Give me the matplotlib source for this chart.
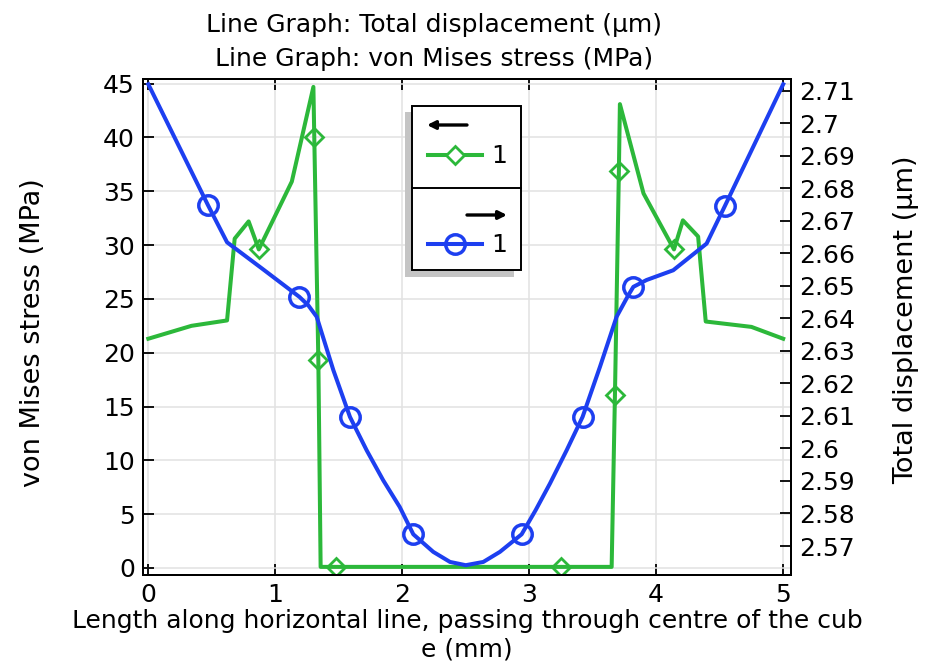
import matplotlib
matplotlib.use("Agg")
import matplotlib.pyplot as plt
import numpy as np
from matplotlib.patches import Rectangle
from matplotlib.ticker import FuncFormatter

# von Mises stress along the line (MPa)
stress_x = [0, 0.34, 0.62, 0.68, 0.79, 0.87, 1.13, 1.30, 1.307, 1.339, 1.357, 1.48,
            3.25, 3.649, 3.675, 3.706, 3.714, 3.90, 4.14, 4.21, 4.33, 4.39, 4.75, 5.0]
stress = [21.3, 22.5, 23.0, 30.6, 32.2, 29.6, 35.9, 44.7, 40.0, 19.3, 0.1, 0.1,
          0.1, 0.1, 16.1, 36.9, 43.1, 34.8, 29.6, 32.3, 30.8, 22.9, 22.4, 21.3]
stress_marks = [5, 8, 9, 11, 12, 14, 15, 18]

# total displacement along the line (um)
disp_x = [0, 0.47, 0.62, 0.9, 1.19, 1.26, 1.326, 1.457, 1.588, 1.72, 1.85, 1.98, 2.087,
          2.244, 2.376, 2.5, 2.638, 2.769, 2.94, 3.05, 3.163, 3.294, 3.42, 3.557, 3.688,
          3.78, 3.82, 3.924, 4.134, 4.397, 4.54, 5.0]
disp = [2.712, 2.6748, 2.6634, 2.6552, 2.6466, 2.6440, 2.6405, 2.6241, 2.6097, 2.5994,
        2.5902, 2.5820, 2.5736, 2.5682, 2.5651, 2.5641, 2.5651, 2.5682, 2.5736, 2.5810,
        2.5892, 2.5994, 2.6097, 2.6251, 2.6405, 2.6471, 2.6497, 2.6518, 2.6548, 2.6630,
        2.6745, 2.712]
disp_marks = [1, 4, 8, 12, 18, 22, 26, 30]

x_ticks = [0, 1, 2, 3, 4, 5]
stress_ticks = [0, 5, 10, 15, 20, 25, 30, 35, 40, 45]
disp_ticks = [2.57, 2.58, 2.59, 2.60, 2.61, 2.62, 2.63, 2.64, 2.65, 2.66, 2.67, 2.68,
              2.69, 2.70, 2.71]

GREEN = '#2cb83a'
BLUE = '#1d3ff0'
FS = 18
LW = 2.9


def draw():
    fig = plt.figure(figsize=(9.26, 6.67), dpi=100)
    ax = fig.add_axes([0.1547, 0.138, 0.6993, 0.743])
    ax2 = ax.twinx()

    ax.plot(stress_x, stress, color=GREEN, lw=LW, marker='D', markevery=stress_marks,
            ms=9, mfc='none', mec=GREEN, mew=2, solid_joinstyle='round')
    ax2.plot(disp_x, disp, color=BLUE, lw=LW, marker='o', markevery=disp_marks,
             ms=14, mfc='none', mec=BLUE, mew=2.5, solid_joinstyle='round')

    ax.set_xlim(-0.04, 5.06)
    ax.set_ylim(-0.65, 45.4)
    ax2.set_ylim(2.5611, 2.7135)

    ax.set_xticks(x_ticks)
    ax.set_yticks(stress_ticks)
    ax2.set_yticks(disp_ticks)
    ax2.yaxis.set_major_formatter(FuncFormatter(lambda v, p: '%g' % round(v, 2)))

    ax.grid(color='#e2e2e2', lw=1.1)
    ax.set_axisbelow(True)

    ax.tick_params(direction='in', length=8, width=1.3, top=True, labelsize=FS, pad=6)
    ax2.tick_params(direction='in', length=8, width=1.3, labelsize=FS, pad=6)
    for a in (ax, ax2):
        for s in a.spines.values():
            s.set_linewidth(1.4)

    ax.set_ylabel('von Mises stress (MPa)', fontsize=19.5)
    ax.yaxis.set_label_coords(-0.150, 0.488)
    ax2.set_ylabel('Total displacement (µm)', fontsize=19.5)
    ax2.yaxis.set_label_coords(1.158, 0.514)
    ax.set_xlabel('Length along horizontal line, passing through centre of the cub\ne (mm)',
                  fontsize=FS, linespacing=1.25)
    ax.xaxis.set_label_coords(0.5, -0.068)

    fig.text(0.469, 0.9805, 'Line Graph: Total displacement (µm)\nLine Graph: von Mises stress (MPa)',
             ha='center', va='top', fontsize=FS, linespacing=1.52)

    # legend box drawn in figure pixels
    lg = fig.add_axes([0, 0, 1, 1], zorder=5)
    lg.set_xlim(0, 926)
    lg.set_ylim(667, 0)
    lg.axis('off')
    lg.add_patch(Rectangle((405, 112), 109, 165, color='#c4c4c4', lw=0))
    lg.add_patch(Rectangle((412, 105.5), 108.5, 164.5, fc='white', ec='black', lw=1.4))
    lg.plot([412, 520.5], [187.5, 187.5], color='black', lw=1.4)
    lg.annotate('', xy=(427, 125), xytext=(467, 125),
                arrowprops=dict(arrowstyle='-|>', color='black', lw=2.4, mutation_scale=12,
                                shrinkA=0, shrinkB=0))
    lg.annotate('', xy=(507, 215), xytext=(467, 215),
                arrowprops=dict(arrowstyle='-|>', color='black', lw=2.4, mutation_scale=12,
                                shrinkA=0, shrinkB=0))
    lg.plot([428, 482], [155, 155], color=GREEN, lw=LW)
    lg.plot([455], [155], marker='D', ms=9, mfc='white', mec=GREEN, mew=2, color=GREEN)
    lg.plot([428, 482], [244, 244], color=BLUE, lw=LW)
    lg.plot([455], [244], marker='o', ms=14, mfc='none', mec=BLUE, mew=2.5, color=BLUE)
    lg.text(491, 156, '1', fontsize=FS, va='center', ha='left')
    lg.text(491, 245, '1', fontsize=FS, va='center', ha='left')

    fig.savefig('out.png', dpi=100)


if __name__ == '__main__':
    draw()
